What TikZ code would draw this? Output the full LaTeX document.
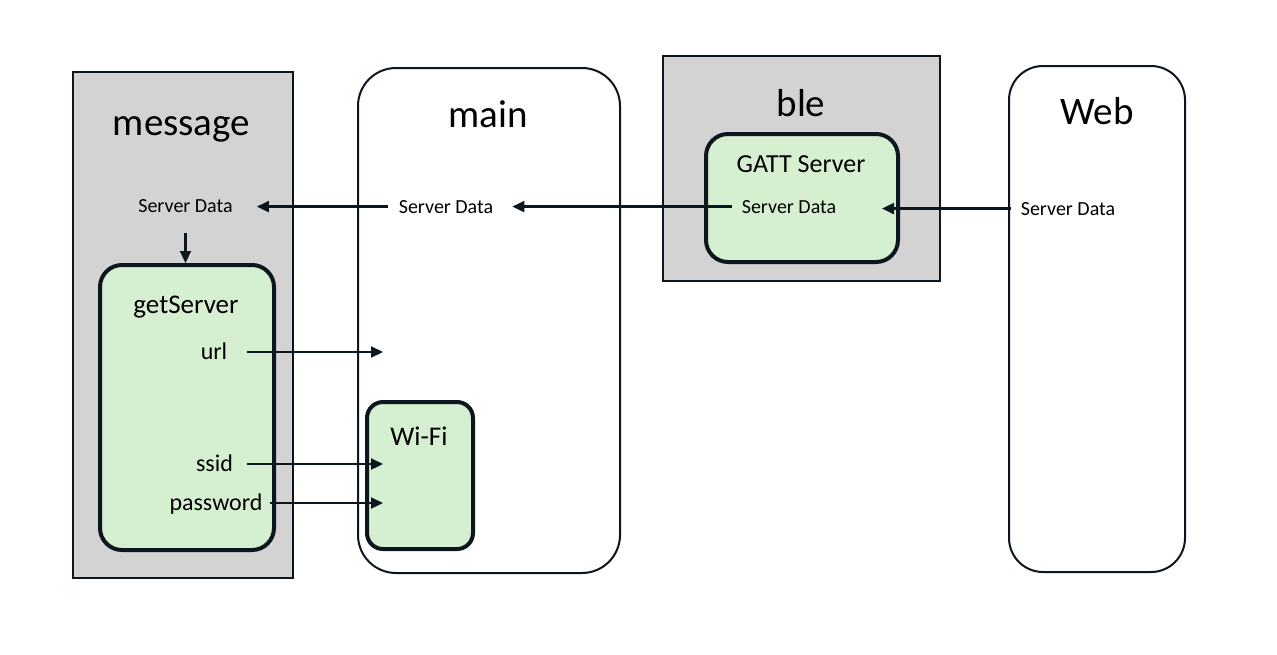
\documentclass[tikz,border=0pt]{standalone}
\usepackage{fontspec}
\setmainfont{Carlito}
\usetikzlibrary{arrows.meta}
\definecolor{ink}{RGB}{12,22,30}
\definecolor{boxgray}{RGB}{211,211,211}
\definecolor{boxgreen}{RGB}{214,239,208}
\tikzset{
 graybox/.style={draw=ink,fill=boxgray,line width=2.5pt,inner sep=0},
 whitebox/.style={draw=ink,fill=white,line width=2pt,rounded corners=38pt,inner sep=0},
 greenbox/.style={draw=ink,fill=boxgreen,line width=4pt,rounded corners=22pt,inner sep=0},
 title/.style={font=\fontsize{39}{46}\selectfont,text=black,inner sep=0,anchor=base},
 sub/.style={font=\fontsize{27}{32}\selectfont,text=black,inner sep=0,anchor=base},
 lbl/.style={font=\fontsize{24}{29}\selectfont,text=black,inner sep=0,anchor=base},
 small/.style={font=\fontsize{20}{24}\selectfont,text=black,inner sep=0,anchor=base},
 arr/.style={draw=ink,line width=2.2pt,-{Triangle[length=12pt,width=11pt]}},
}
\begin{document}
\begin{tikzpicture}[x=1pt,y=-1pt]
\useasboundingbox[fill=white] (0,0) rectangle (1277,654);
% containers
\node[graybox,minimum width=220pt,minimum height=506pt] (message) at (183,325) {};
\node[greenbox,minimum width=174pt,minimum height=285pt] (getServer) at (187,407.5) {};
\node[whitebox,minimum width=262pt,minimum height=505pt] (main) at (489,320.5) {};
\node[greenbox,minimum width=106pt,minimum height=147pt,rounded corners=16pt] (wifi) at (420,475.5) {};
\node[graybox,minimum width=277pt,minimum height=225pt] (ble) at (801.5,168.5) {};
\node[greenbox,minimum width=192pt,minimum height=128pt] (gatt) at (802,198) {};
\node[whitebox,minimum width=176pt,minimum height=506pt,rounded corners=34pt] (web) at (1097,319) {};
% titles
\node[title] (messageT) at (181.5,135) {message};
\node[title] (mainT) at (488,127) {main};
\node[title] (bleT) at (801,116) {ble};
\node[title] (webT) at (1097,124) {Web};
\node[sub] (getServerT) at (186,313) {getServer};
\node[sub] (wifiT) at (419,445) {Wi-Fi};
\node[sub,font=\fontsize{26}{31}\selectfont] (gattT) at (801,172) {GATT Server};
% labels
\node[small] (msgSD) at (185.5,212) {Server Data};
\node[small] (mainSD) at (446,213) {Server Data};
\node[small] (gattSD) at (789,213) {Server Data};
\node[small] (webSD) at (1068,215) {Server Data};
\node[lbl] (url) at (214,359) {url};
\node[lbl] (ssid) at (214.5,471) {ssid};
\node[lbl] (password) at (216,510) {password};
\coordinate (urlin) at (383,352);
\coordinate (ssidin) at (383,464);
\coordinate (pwin) at (383,503);
% connectors
\draw[arr,shorten <=21pt] (msgSD.south) -- (msgSD.south |- getServer.north);
\draw[arr,shorten <=11pt,shorten >=24pt] (mainSD.west) -- (mainSD.west -| msgSD.east);
\draw[arr,shorten <=10pt,shorten >=19pt] (gattSD.west) -- (gattSD.west -| mainSD.east);
\draw[arr,shorten <=10pt,shorten >=-18pt] (webSD.west) -- (webSD.west -| gatt.east);
\draw[arr,shorten <=20pt] (url.east |- urlin) -- (urlin);
\draw[arr,shorten <=14pt] (ssid.east |- ssidin) -- (ssidin);
\draw[arr,shorten <=7pt] (password.east |- pwin) -- (pwin);
\end{tikzpicture}
\end{document}
